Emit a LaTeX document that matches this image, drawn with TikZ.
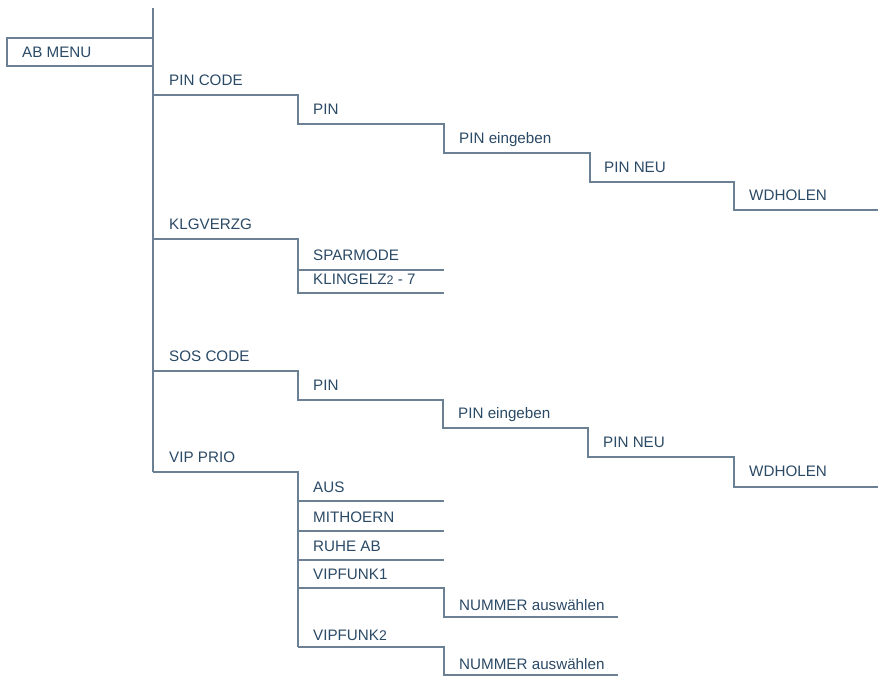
\documentclass[tikz,border=0pt]{standalone}
\usepackage{fontspec}
\setmainfont{Liberation Sans}
\definecolor{lineC}{HTML}{6B8092}
\definecolor{textC}{HTML}{2B4A66}
\begin{document}
\begin{tikzpicture}[x=1pt,y=-1pt,
  lbl/.style={anchor=base west,inner sep=0pt,text=textC,font=\fontsize{15.2}{18}\selectfont},
  ln/.style={draw=lineC,line width=1.5pt}]
\useasboundingbox (0,0) rectangle (884,684);
\fill[white] (0,0) rectangle (884,684);
% main trunk
\coordinate (top) at (153,8);
\coordinate (trunkEnd) at (153,472);
\draw[ln] (top) -- (trunkEnd);
% AB MENU box
\node[lbl] (abmenu) at (22,58) {AB MENU};
\coordinate (boxA) at (7,38);
\coordinate (boxB) at (153,66);
\draw[ln] (boxA) rectangle (boxB);
% PIN CODE chain
\node[lbl] (pincode) at (169,86) {PIN CODE};
\node[lbl] (pin1) at (313,115) {PIN};
\node[lbl] (pinein1) at (459,144) {PIN eingeben};
\node[lbl] (pinneu1) at (604,173) {PIN NEU};
\node[lbl] (wd1) at (749,201) {WDHOLEN};
\coordinate (a0) at (153,95);
\coordinate (a1) at (298,95);
\coordinate (a2) at (298,124);
\coordinate (a3) at (444,124);
\coordinate (a4) at (444,153);
\coordinate (a5) at (590,153);
\coordinate (a6) at (590,182);
\coordinate (a7) at (734,182);
\coordinate (a8) at (734,210);
\coordinate (a9) at (878,210);
\draw[ln] (a0) -- (a1) -- (a2) -- (a3) -- (a4) -- (a5) -- (a6) -- (a7) -- (a8) -- (a9);
% KLGVERZG
\node[lbl] (klg) at (169,230) {KLGVERZG};
\node[lbl] (spar) at (313,261) {SPARMODE};
\node[lbl] (kling) at (313,285) {KLINGELZ{\fontsize{12.5}{12}\selectfont 2} - 7};
\coordinate (b0) at (153,239);
\coordinate (b1) at (298,239);
\coordinate (b2) at (298,293);
\coordinate (b3) at (444,293);
\coordinate (b4) at (298,270);
\coordinate (b5) at (444,270);
\draw[ln] (b0) -- (b1) -- (b2) -- (b3);
\draw[ln] (b4) -- (b5);
% SOS CODE chain
\node[lbl] (sos) at (169,362) {SOS CODE};
\node[lbl] (pin2) at (313,391) {PIN};
\node[lbl] (pinein2) at (458,419) {PIN eingeben};
\node[lbl] (pinneu2) at (603,448) {PIN NEU};
\node[lbl] (wd2) at (749,477) {WDHOLEN};
\coordinate (c0) at (153,371);
\coordinate (c1) at (298,371);
\coordinate (c2) at (298,400);
\coordinate (c3) at (443,400);
\coordinate (c4) at (443,428);
\coordinate (c5) at (588,428);
\coordinate (c6) at (588,457);
\coordinate (c7) at (734,457);
\coordinate (c8) at (734,487);
\coordinate (c9) at (878,487);
\draw[ln] (c0) -- (c1) -- (c2) -- (c3) -- (c4) -- (c5) -- (c6) -- (c7) -- (c8) -- (c9);
% VIP PRIO
\node[lbl] (vip) at (169,463) {VIP PRIO};
\node[lbl] (aus) at (313,493) {AUS};
\node[lbl] (mith) at (313,522) {MITHOERN};
\node[lbl] (ruhe) at (313,551) {RUHE AB};
\node[lbl] (vf1) at (313,579) {VIPFUNK1};
\node[lbl] (num1) at (459,610) {NUMMER auswählen};
\node[lbl] (vf2) at (313,640) {VIPFUNK{\fontsize{14}{14}\selectfont 2}};
\node[lbl] (num2) at (459,669) {NUMMER auswählen};
\coordinate (d0) at (153,472);
\coordinate (d1) at (298,472);
\coordinate (d2) at (298,647);
\draw[ln] (d0) -- (d1) -- (d2);
\coordinate (e1) at (298,501);
\coordinate (e1r) at (444,501);
\coordinate (e2) at (298,531);
\coordinate (e2r) at (444,531);
\coordinate (e3) at (298,560);
\coordinate (e3r) at (444,560);
\draw[ln] (e1) -- (e1r);
\draw[ln] (e2) -- (e2r);
\draw[ln] (e3) -- (e3r);
\coordinate (f0) at (298,588);
\coordinate (f1) at (444,588);
\coordinate (f2) at (444,617);
\coordinate (f3) at (618,617);
\draw[ln] (f0) -- (f1) -- (f2) -- (f3);
\coordinate (g1) at (444,647);
\coordinate (g2) at (444,675);
\coordinate (g3) at (618,675);
\draw[ln] (d2) -- (g1) -- (g2) -- (g3);
\end{tikzpicture}
\end{document}
